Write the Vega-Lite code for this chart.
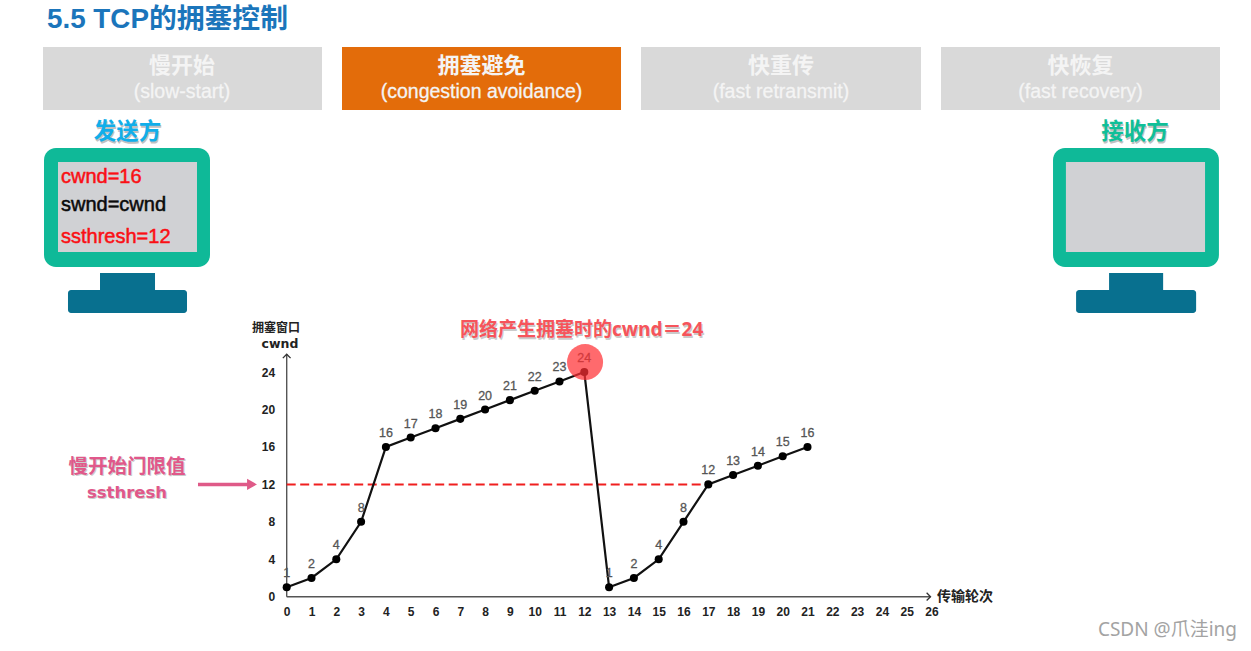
{"$schema":"https://vega.github.io/schema/vega-lite/v6.json","width":1251,"height":651,"padding":0,"autosize":{"type":"none"},"background":"#ffffff","config":{"view":{"stroke":null},"axis":{"grid":false,"domain":false,"ticks":false,"title":null,"labelOverlap":false,"labelFlush":false,"labelBound":false,"labelFont":"Liberation Sans","labelFontWeight":"bold","labelFontSize":12,"labelColor":"#222222"}},
"datasets":{
"flat":[{"x":-9.827,"x2":1.423,"y":58.73,"y2":52.0,"kind":"idle"},{"x":2.23,"x2":13.48,"y":58.73,"y2":52.0,"kind":"active"},{"x":14.286,"x2":25.577,"y":58.73,"y2":52.0,"kind":"idle"},{"x":26.383,"x2":37.633,"y":58.73,"y2":52.0,"kind":"idle"},{"x":-7.528,"x2":-5.31,"y":34.58,"y2":32.66,"kind":"stand"},{"x":33.16,"x2":35.34,"y":34.58,"y2":32.66,"kind":"stand"}],
"frame":[{"x":-9.786,"x2":-3.093,"y":47.94,"y2":35.22,"kind":"frame"},{"x":30.9,"x2":37.59,"y":47.94,"y2":35.22,"kind":"frame"}],
"screen":[{"x":-9.222,"x2":-3.617,"y":46.44,"y2":36.83,"kind":"screen"},{"x":31.42,"x2":37.03,"y":46.44,"y2":36.83,"kind":"screen"}],
"base":[{"x":-8.819,"x2":-4.02,"y":32.77,"y2":30.31,"kind":"stand"},{"x":31.83,"x2":36.67,"y":32.77,"y2":30.31,"kind":"stand"}],
"cwnd":[{"x":0,"y":1},{"x":1,"y":2},{"x":2,"y":4},{"x":3,"y":8},{"x":4,"y":16},{"x":5,"y":17},{"x":6,"y":18},{"x":7,"y":19},{"x":8,"y":20},{"x":9,"y":21},{"x":10,"y":22},{"x":11,"y":23},{"x":12,"y":24},{"x":13,"y":1},{"x":14,"y":2},{"x":15,"y":4},{"x":16,"y":8},{"x":17,"y":12},{"x":18,"y":13},{"x":19,"y":14},{"x":20,"y":15},{"x":21,"y":16}],
"sender":[{"x":-6.419,"y":49.75,"t":"发送方"}],
"receiver":[{"x":34.21,"y":49.75,"t":"接收方"}],
"thresh1":[{"x":-6.44,"y":13.86,"t":"慢开始门限值"}],
"thresh2":[{"x":-6.44,"y":11.08,"t":"ssthresh"}],
"net":[{"x":6.988,"y":28.49,"t":"网络产生拥塞时的cwnd＝24"}]
},
"encoding":{
"x":{"field":"x","type":"quantitative","scale":{"domain":[-11.5605,38.883],"nice":false,"zero":false},"axis":{"values":[0,1,2,3,4,5,6,7,8,9,10,11,12,13,14,15,16,17,18,19,20,21,22,23,24,25,26],"offset":-54.3,"labelPadding":10,"orient":"bottom"}},
"y":{"field":"y","type":"quantitative","scale":{"domain":[-5.801,63.75],"nice":false,"zero":false},"axis":{"values":[0,4,8,12,16,20,24],"offset":-286.7,"labelPadding":12,"orient":"left"}}
},
"layer":[
{"data":{"name":"flat"},"mark":{"type":"rect"},"encoding":{"x2":{"field":"x2"},"y2":{"field":"y2"},"color":{"field":"kind","type":"nominal","legend":null,"scale":{"domain":["idle","active","frame","screen","stand"],"range":["#d9d9d9","#e36c0a","#0fb998","#d0d1d4","#08708f"]}}}},
{"data":{"name":"frame"},"mark":{"type":"rect","cornerRadius":12},"encoding":{"x2":{"field":"x2"},"y2":{"field":"y2"},"color":{"field":"kind","type":"nominal","legend":null}}},
{"data":{"name":"screen"},"mark":{"type":"rect"},"encoding":{"x2":{"field":"x2"},"y2":{"field":"y2"},"color":{"field":"kind","type":"nominal","legend":null}}},
{"data":{"name":"base"},"mark":{"type":"rect","cornerRadius":3},"encoding":{"x2":{"field":"x2"},"y2":{"field":"y2"},"color":{"field":"kind","type":"nominal","legend":null}}},
{"data":{"values":[{"x":-9.665,"y":61.61,"t":"5.5 TCP的拥塞控制"}]},"mark":{"type":"text","align":"left","baseline":"middle","font":"Liberation Sans, Noto Sans CJK SC","fontWeight":"bold","fontSize":27.8,"color":"#1b75bb"},"encoding":{"text":{"field":"t"}}},
{"data":{"values":[{"x":-4.222,"y":56.7,"t":"慢开始"},{"x":7.855,"y":56.7,"t":"拥塞避免"},{"x":19.93,"y":56.7,"t":"快重传"},{"x":32.01,"y":56.7,"t":"快恢复"}]},"mark":{"type":"text","align":"center","baseline":"middle","font":"Noto Sans CJK SC","fontWeight":"bold","fontSize":22,"color":"#f4f4f4"},"encoding":{"text":{"field":"t"}}},
{"data":{"values":[{"x":-4.222,"y":53.92,"t":"(slow-start)"},{"x":7.855,"y":53.92,"t":"(congestion avoidance)"},{"x":19.93,"y":53.92,"t":"(fast retransmit)"},{"x":32.01,"y":53.92,"t":"(fast recovery)"}]},"mark":{"type":"text","align":"center","baseline":"middle","font":"Liberation Sans","fontSize":19.5,"color":"#f4f4f4","stroke":"#f4f4f4","strokeWidth":0.3},"encoding":{"text":{"field":"t"}}},
{"data":{"name":"sender"},"mark":{"type":"text","align":"center","baseline":"middle","dx":1,"dy":2.5,"font":"Noto Sans CJK SC","fontWeight":"bold","fontSize":22.5,"color":"#999999","opacity":0.6},"encoding":{"text":{"field":"t"}}},
{"data":{"name":"sender"},"mark":{"type":"text","align":"center","baseline":"middle","dy":1,"font":"Noto Sans CJK SC","fontWeight":"bold","fontSize":22.5,"color":"#10aeea"},"encoding":{"text":{"field":"t"}}},
{"data":{"name":"receiver"},"mark":{"type":"text","align":"center","baseline":"middle","dx":1,"dy":2.5,"font":"Noto Sans CJK SC","fontWeight":"bold","fontSize":22.5,"color":"#999999","opacity":0.6},"encoding":{"text":{"field":"t"}}},
{"data":{"name":"receiver"},"mark":{"type":"text","align":"center","baseline":"middle","dy":1,"font":"Noto Sans CJK SC","fontWeight":"bold","fontSize":22.5,"color":"#0fbf98"},"encoding":{"text":{"field":"t"}}},
{"data":{"values":[{"x":-9.101,"y":44.84,"t":"cwnd=16"},{"x":-9.101,"y":38.43,"t":"ssthresh=12"}]},"mark":{"type":"text","align":"left","baseline":"middle","font":"Liberation Sans","fontSize":20,"color":"#fa0f14","stroke":"#fa0f14","strokeWidth":0.5},"encoding":{"text":{"field":"t"}}},
{"data":{"values":[{"x":-9.101,"y":41.85,"t":"swnd=cwnd"}]},"mark":{"type":"text","align":"left","baseline":"middle","font":"Liberation Sans","fontSize":20,"color":"#0a0a0a","stroke":"#0a0a0a","strokeWidth":0.5},"encoding":{"text":{"field":"t"}}},
{"data":{"values":[{"x":-0.431,"y":28.71,"t":"拥塞窗口"}]},"mark":{"type":"text","align":"center","baseline":"middle","font":"Noto Sans CJK SC","fontWeight":"bold","fontSize":12,"color":"#222222"},"encoding":{"text":{"field":"t"}}},
{"data":{"values":[{"x":-0.27,"y":27.05,"t":"cwnd"}]},"mark":{"type":"text","align":"center","baseline":"middle","font":"DejaVu Sans","fontWeight":"bold","fontSize":12.5,"color":"#222222"},"encoding":{"text":{"field":"t"}}},
{"data":{"values":[{"x":26.22,"y":0,"t":"传输轮次"}]},"mark":{"type":"text","align":"left","baseline":"middle","font":"Noto Sans CJK SC","fontWeight":"bold","fontSize":14,"color":"#222222"},"encoding":{"text":{"field":"t"}}},
{"data":{"name":"thresh1"},"mark":{"type":"text","align":"center","baseline":"middle","dx":1,"dy":1.5,"font":"Noto Sans CJK SC","fontWeight":"bold","fontSize":19.5,"color":"#999999","opacity":0.5},"encoding":{"text":{"field":"t"}}},
{"data":{"name":"thresh1"},"mark":{"type":"text","align":"center","baseline":"middle","font":"Noto Sans CJK SC","fontWeight":"bold","fontSize":19.5,"color":"#e0588a"},"encoding":{"text":{"field":"t"}}},
{"data":{"name":"thresh2"},"mark":{"type":"text","align":"center","baseline":"middle","dx":1,"dy":1.5,"font":"DejaVu Sans","fontWeight":"bold","fontSize":16.5,"color":"#999999","opacity":0.5},"encoding":{"text":{"field":"t"}}},
{"data":{"name":"thresh2"},"mark":{"type":"text","align":"center","baseline":"middle","font":"DejaVu Sans","fontWeight":"bold","fontSize":16.5,"color":"#e0588a"},"encoding":{"text":{"field":"t"}}},
{"data":{"name":"net"},"mark":{"type":"text","align":"left","baseline":"middle","dx":1,"dy":1.5,"font":"Open Sans, Noto Sans CJK SC","fontWeight":"bold","fontSize":19,"color":"#999999","opacity":0.5},"encoding":{"text":{"field":"t"}}},
{"data":{"name":"net"},"mark":{"type":"text","align":"left","baseline":"middle","font":"Open Sans, Noto Sans CJK SC","fontWeight":"bold","fontSize":19,"color":"#f6545b"},"encoding":{"text":{"field":"t"}}},
{"data":{"values":[{"x":38.32,"y":-3.558,"t":"CSDN @爪洼ing"}]},"mark":{"type":"text","align":"right","baseline":"middle","font":"Noto Sans, Noto Sans CJK SC","fontSize":19,"color":"#a3a3a3"},"encoding":{"text":{"field":"t"}}},
{"data":{"values":[{"x":-3.577,"x2":-1.56,"y":12}]},"mark":{"type":"rule","color":"#df5a88","strokeWidth":3.5},"encoding":{"x2":{"field":"x2"}}},
{"data":{"values":[{"x":-1.399,"y":12}]},"mark":{"type":"point","shape":"triangle-right","filled":true,"size":130,"color":"#df5a88","opacity":1},"encoding":{}},
{"data":{"values":[{"x":0,"x2":25.96,"y":0}]},"mark":{"type":"rule","color":"#555555","strokeWidth":1.4},"encoding":{"x2":{"field":"x2"}}},
{"data":{"values":[{"x":0,"y":0,"y2":25.9}]},"mark":{"type":"rule","color":"#555555","strokeWidth":1.4},"encoding":{"y2":{"field":"y2"}}},
{"data":{"values":[{"x":25.96,"y":0}]},"mark":{"type":"point","shape":"M-1,-1L0,0L-1,1","filled":false,"size":60,"color":"#333333","strokeWidth":1.3,"opacity":1},"encoding":{}},
{"data":{"values":[{"x":0,"y":25.9}]},"mark":{"type":"point","shape":"M-1,1L0,0L1,1","filled":false,"size":60,"color":"#333333","strokeWidth":1.3,"opacity":1},"encoding":{}},
{"data":{"values":[{"x":0,"x2":17,"y":12}]},"mark":{"type":"rule","color":"#f01f1f","strokeWidth":2,"strokeDash":[9,4.5]},"encoding":{"x2":{"field":"x2"}}},
{"data":{"name":"cwnd"},"mark":{"type":"line","color":"#111111","strokeWidth":2.2},"encoding":{}},
{"data":{"name":"cwnd"},"mark":{"type":"point","filled":true,"size":65,"color":"#000000","opacity":1},"encoding":{}},
{"data":{"name":"cwnd"},"mark":{"type":"text","align":"center","baseline":"middle","dy":-14,"font":"Liberation Sans","fontSize":12.5,"color":"#555555","stroke":"#555555","strokeWidth":0.3},"encoding":{"text":{"field":"y","type":"quantitative"}}},
{"data":{"values":[{"x":12.03,"y":25.07}]},"mark":{"type":"point","filled":true,"size":1300,"color":"#ff3035","opacity":0.72},"encoding":{}}
]}
